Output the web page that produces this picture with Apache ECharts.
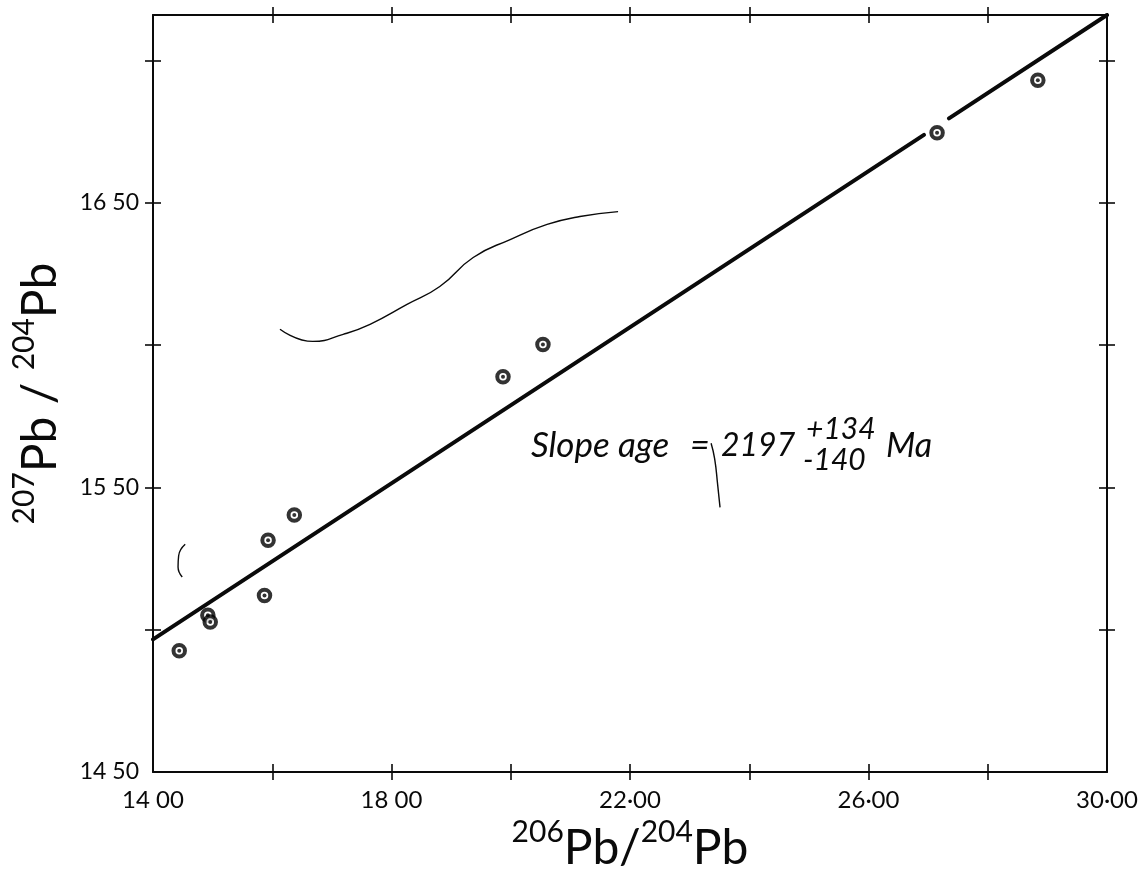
<!DOCTYPE html>
<html>
<head>
<meta charset="utf-8">
<title>207Pb/204Pb vs 206Pb/204Pb</title>
<script src="https://cdn.jsdelivr.net/npm/echarts@6/dist/echarts.min.js"></script>
<style>
  html, body { margin: 0; padding: 0; background: #fff; }
  #chart { width: 1141px; height: 877px; }
</style>
</head>
<body>
<div id="chart"></div>
<script>
// Sample lead isotope ratios
const pb206 = [14.44, 14.92, 14.96, 15.87, 15.93, 16.37, 19.87, 20.54, 27.15, 28.84];
const pb207 = [14.926, 15.051, 15.027, 15.120, 15.314, 15.403, 15.889, 16.002, 16.746, 16.931];

// Regression line, drawn in two pieces with a break around one sample
const fitSegmentA = [[14.0, 14.966], [26.93, 16.739]];
const fitSegmentB = [[27.35, 16.797], [30.0, 17.16]];

// Pen strokes on the sheet
const penCurve = [[16.13, 16.056], [16.68, 16.013], [17.19, 16.038], [17.64, 16.073], [18.26, 16.143],
                  [18.81, 16.206], [19.37, 16.308], [19.99, 16.371], [20.61, 16.424], [21.16, 16.452], [21.80, 16.469]];
const penHook = [[23.36, 15.655], [23.42, 15.60], [23.47, 15.51], [23.51, 15.43]];
const penBracket = [[14.54, 15.30], [14.43, 15.26], [14.42, 15.22], [14.49, 15.185]];

// Axis ticks and labels
const xTickValues = [16, 18, 20, 22, 24, 26, 28];
const xLabelValues = [14, 18, 22, 26, 30];
const xLabelTexts = ['14 00', '18 00', '22·00', '26·00', '30·00'];
const yTickValues = [15.0, 15.5, 16.0, 16.5, 17.0];
const yLabelValues = [14.5, 15.5, 16.5];
const yLabelTexts = ['14 50', '15 50', '16 50'];

// Slope-age note
const slopeAgeText = ['Slope age', '=', '2197'];
const slopeAgeErrors = ['+134', '-140'];
const slopeAgeUnit = 'Ma';

const ink = '#0a0a0a';
const FONT = 'Lato, "DejaVu Sans", sans-serif';

const chart = echarts.init(document.getElementById('chart'), null, { renderer: 'canvas' });

const gridBox = { left: 153, right: 34, top: 15, bottom: 105, containLabel: false, outerBoundsMode: 'none' };

function labelFrom(values, texts) {
  return function (v) {
    for (let i = 0; i < values.length; i++) {
      if (Math.abs(values[i] - v) < 1e-6) return texts[i];
    }
    return '';
  };
}

const titleRich = {
  big: { fontSize: 48, fontFamily: FONT, color: ink, lineHeight: 56, verticalAlign: 'bottom' },
  sup: { fontSize: 30, fontFamily: FONT, color: ink, lineHeight: 32, verticalAlign: 'top' }
};

function xAxisDef(grid, position, inside, labelled) {
  return {
    type: 'value', gridIndex: grid, position: position, min: 14, max: 30,
    axisLine: { show: !inside, onZero: false, lineStyle: { color: ink, width: 2 } },
    axisTick: { show: true, inside: inside, length: 8, customValues: xTickValues, lineStyle: { color: ink, width: 1.6 } },
    axisLabel: labelled ? {
      show: true, customValues: xLabelValues, formatter: labelFrom(xLabelValues, xLabelTexts),
      margin: 16, fontSize: 24, fontFamily: FONT, color: ink
    } : { show: false },
    splitLine: { show: false },
    name: labelled ? '{sup|206}{big|Pb/}{sup|204}{big|Pb}' : '',
    nameLocation: 'middle', nameGap: 39,
    nameTextStyle: { rich: titleRich }
  };
}

function yAxisDef(grid, position, inside, labelled) {
  return {
    type: 'value', gridIndex: grid, position: position, min: 14.5, max: 17.16,
    axisLine: { show: !inside, onZero: false, lineStyle: { color: ink, width: 2 } },
    axisTick: { show: true, inside: inside, length: 8, customValues: yTickValues, lineStyle: { color: ink, width: 1.6 } },
    axisLabel: labelled ? {
      show: true, customValues: yLabelValues, formatter: labelFrom(yLabelValues, yLabelTexts),
      margin: 14, fontSize: 23, fontFamily: FONT, color: ink
    } : { show: false },
    splitLine: { show: false },
    name: labelled ? '{sup|207}{big|Pb / }{sup|204}{big|Pb}' : '',
    nameLocation: 'middle', nameGap: 88, nameRotate: 90,
    nameTextStyle: { rich: titleRich }
  };
}

const samples = pb206.map((x, i) => [x, pb207[i]]);

function penSeries(data) {
  return {
    type: 'line', data: data, smooth: true, symbol: 'none', silent: true,
    lineStyle: { color: ink, width: 1.4 }, z: 1
  };
}

function fitSeries(data) {
  return {
    type: 'line', data: data, symbol: 'none', silent: true,
    lineStyle: { color: ink, width: 4, cap: 'round' }, z: 2
  };
}

function noteText(text, left, top, size) {
  return { type: 'text', left: left, top: top, z: 10,
           style: { text: text, font: 'italic ' + size + 'px ' + FONT, fill: ink } };
}

chart.setOption({
  backgroundColor: '#fff',
  animation: false,
  grid: [Object.assign({}, gridBox), Object.assign({}, gridBox)],
  xAxis: [
    xAxisDef(0, 'bottom', false, true),
    xAxisDef(0, 'top', false, false),
    xAxisDef(1, 'bottom', true, false),
    xAxisDef(1, 'top', true, false)
  ],
  yAxis: [
    yAxisDef(0, 'left', false, true),
    yAxisDef(0, 'right', false, false),
    yAxisDef(1, 'left', true, false),
    yAxisDef(1, 'right', true, false)
  ],
  series: [
    penSeries(penCurve),
    penSeries(penHook),
    penSeries(penBracket),
    fitSeries(fitSegmentA),
    fitSeries(fitSegmentB),
    {
      name: 'samples', type: 'scatter', data: samples, symbol: 'circle', symbolSize: 11.5,
      itemStyle: { color: '#fff', borderColor: '#000', borderWidth: 4 }, z: 3
    },
    {
      name: 'sample centres', type: 'scatter', data: samples, symbol: 'circle', symbolSize: 4,
      itemStyle: { color: '#000' }, z: 4, silent: true
    }
  ],
  graphic: [
    noteText(slopeAgeText[0], 531, 428, 35),
    noteText(slopeAgeText[1], 690, 429, 34),
    noteText(slopeAgeText[2], 721, 430, 32),
    noteText(slopeAgeErrors[0], 806, 414, 30),
    noteText(slopeAgeErrors[1], 803, 445, 30),
    noteText(slopeAgeUnit, 886, 429, 34)
  ]
});
</script>
</body>
</html>
